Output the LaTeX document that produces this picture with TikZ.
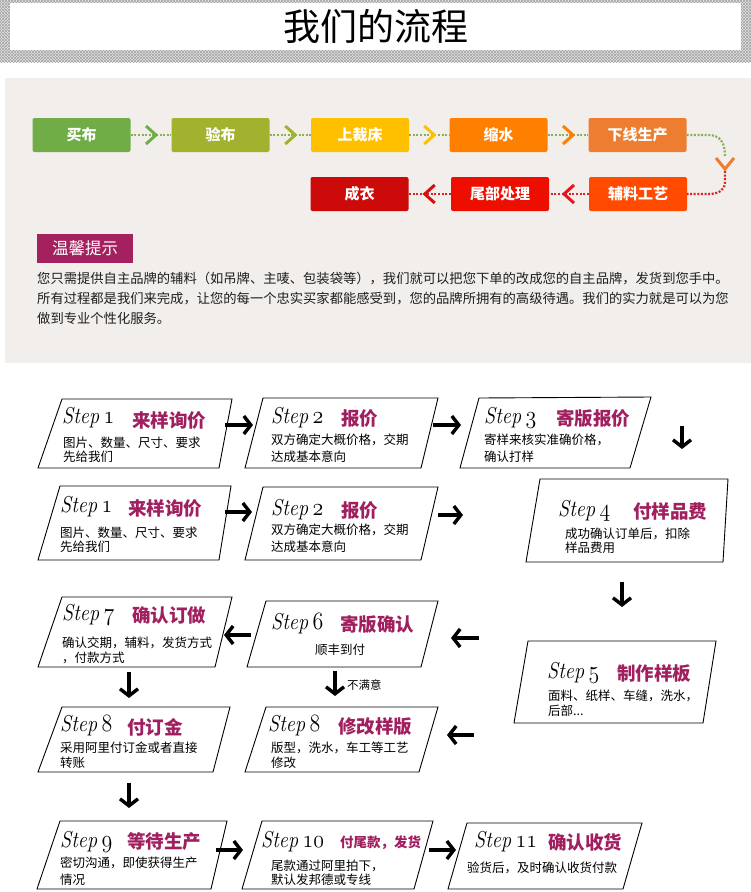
\documentclass[tikz,border=0pt]{standalone}
\usepackage{fontspec}
\newfontfamily\cjk{Noto Sans CJK SC}
\usetikzlibrary{arrows.meta,patterns,calc}
\definecolor{cmag}{HTML}{A0205F}
\definecolor{cTip}{HTML}{A3215F}
\definecolor{cBuy}{HTML}{70AD47}
\definecolor{cCheck}{HTML}{A2B22F}
\definecolor{cCut}{HTML}{FFC000}
\definecolor{cShrink}{HTML}{FF7F00}
\definecolor{cLine}{HTML}{ED7D31}
\definecolor{cAux}{HTML}{FF4A00}
\definecolor{cTail}{HTML}{EE0E00}
\definecolor{cDone}{HTML}{CC0A0A}
\definecolor{cDotG}{HTML}{86B24F}
\definecolor{cDotR}{HTML}{D92424}
\definecolor{cChevA}{HTML}{E8141E}
\definecolor{cChevB}{HTML}{D40F0F}
\definecolor{cPanel}{HTML}{F1EEEB}
\definecolor{cText}{HTML}{1E1E1E}
\newcommand\osn[1]{{\fontencoding{OML}\fontfamily{cmm}\fontseries{m}\fontshape{it}\selectfont #1}}
\newcommand\stp[1]{\scalebox{0.88}[1]{Step\kern0.22em\osn{#1}}}
\tikzset{
  flowbox/.style={rounded corners=2pt, minimum width=98pt, minimum height=34pt, inner sep=0pt,
    text=white, font=\cjk\bfseries\fontsize{15}{15}\selectfont},
  dotg/.style={draw=cDotG, line width=2.2pt, dash pattern=on 2pt off 1.6pt},
  dotr/.style={draw=cDotR, line width=2.2pt, dash pattern=on 2pt off 1.6pt},
  chev/.style={line width=3pt, line join=miter},
  sbox/.style={draw=black, line width=0.9pt, fill=white},
  steplbl/.style={inner sep=0pt, anchor=base west, font=\itshape\fontsize{23}{23}\selectfont},
  cnttl/.style={inner sep=0pt, anchor=west, text=cmag, font=\cjk\bfseries\fontsize{18.5}{20}\selectfont},
  bodytxt/.style={inner sep=0pt, anchor=west, text=black, font=\cjk\fontsize{12.5}{14}\selectfont},
  paratxt/.style={inner sep=0pt, anchor=west, text=cText, font=\cjk\fontsize{13.3}{14}\selectfont},
  bigarr/.style={line width=3.4pt, -{Straight Barb[length=7pt,width=18pt]}},
}
\newcommand\sbx[5]{\draw[sbox] #2 -- #3 -- #4 -- #5 -- cycle; \coordinate (#1) at ($#2!0.5!#4$);}
\newcommand\barrow[3]{\coordinate (#1s) at #2; \coordinate (#1e) at #3; \draw[bigarr] (#1s) -- (#1e);}
\newcommand\chevR[2]{\draw[chev, draw=#2] ($#1+(-5,-9)$) -- ++(10,9) -- ++(-10,9);}
\newcommand\chevL[2]{\draw[chev, draw=#2] ($#1+(5,-9)$) -- ++(-10,9) -- ++(10,9);}
\begin{document}
\begin{tikzpicture}[x=1pt,y=-1pt]
\useasboundingbox (0,0) rectangle (751,892);
\fill[white] (0,0) rectangle (751,892);
% header
\fill[gray!22] (0,0) rectangle (751,62);
\fill[pattern=north east lines, pattern color=gray!70] (0,0) rectangle (751,62);
\fill[pattern=north west lines, pattern color=gray!70] (0,0) rectangle (751,62);
\fill[white] (10,3) rectangle (741,50);
\node[inner sep=0pt, font=\cjk\fontsize{37}{37}\selectfont] (title) at (376,26) {我们的流程};
% panel
\fill[cPanel] (5,78) rectangle (751,363);
\node[flowbox, fill=cBuy] (f1) at (81.5,135) {买布};
\node[flowbox, fill=cCheck] (f2) at (220.5,135) {验布};
\node[flowbox, fill=cCut] (f3) at (360,135) {上裁床};
\node[flowbox, fill=cShrink] (f4) at (498.5,135) {缩水};
\node[flowbox, fill=cLine] (f5) at (637.5,135) {下线生产};
\node[flowbox, fill=cAux] (f6) at (638,194) {辅料工艺};
\node[flowbox, fill=cTail] (f7) at (500,194) {尾部处理};
\node[flowbox, fill=cDone] (f8) at (359.5,194) {成衣};
\draw[dotg] (f1.east) -- (f2.west);
\draw[dotg] (f2.east) -- (f3.west);
\draw[dotg] (f3.east) -- (f4.west);
\draw[dotg] (f4.east) -- (f5.west);
\coordinate (vtop) at (725,156);
\coordinate (vbot) at (725,171);
\draw[dotg] (f5.east) -- (708,135) .. controls (720,135) and (725,142) .. (vtop);
\draw[dotr] (vbot) -- (725,182) .. controls (725,190) and (719,194) .. (708,194) -- (f6.east);
\draw[dotr] (f6.west) -- (f7.east);
\draw[dotr] (f7.west) -- (f8.east);
\chevR{($(f1.east)!0.5!(f2.west)$)}{cBuy}
\chevR{($(f2.east)!0.5!(f3.west)$)}{cCheck}
\chevR{($(f3.east)!0.5!(f4.west)$)}{cCut}
\chevR{($(f4.east)!0.5!(f5.west)$)}{cShrink}
\draw[chev, draw=cLine] (716,158) -- (725,169) -- (734,158);
\chevL{($(f6.west)!0.5!(f7.east)$)}{cChevA}
\chevL{($(f7.west)!0.5!(f8.east)$)}{cChevB}
\node[fill=cTip, minimum width=96pt, minimum height=29pt, inner sep=0pt, text=white,
  font=\cjk\fontsize{16.5}{17}\selectfont] (tip) at (85,248) {温馨提示};
\node[paratxt] (p1) at (37,279) {您只需提供自主品牌的辅料（如吊牌、主唛、包装袋等），我们就可以把您下单的改成您的自主品牌，发货到您手中。};
\node[paratxt] (p2) at (37,299) {所有过程都是我们来完成，让您的每一个忠实买家都能感受到，您的品牌所拥有的高级待遇。我们的实力就是可以为您};
\node[paratxt] (p3) at (37,318) {做到专业个性化服务。};
% step boxes
\sbx{A1}{(62,399)}{(232,399)}{(219,468)}{(38,468)}
\sbx{A2}{(263,398)}{(438,398)}{(421,468)}{(245,468)}
\sbx{A3}{(479,398)}{(651,397)}{(630,468)}{(460,468)}
\sbx{B1}{(60,486)}{(231,486)}{(219,560)}{(38,560)}
\sbx{B2}{(263,487)}{(438,487)}{(421,560)}{(245,560)}
\sbx{B4}{(540,479)}{(728,479)}{(723,562)}{(526,562)}
\sbx{C5}{(528,641)}{(716,641)}{(703,723)}{(514,723)}
\sbx{C6}{(266,601)}{(438,601)}{(421,667)}{(247,667)}
\sbx{C7}{(62,597)}{(232,597)}{(215,667)}{(38,667)}
\sbx{D8}{(62,707)}{(230,707)}{(213,772)}{(38,772)}
\sbx{D9}{(266,707)}{(438,707)}{(419,772)}{(245,772)}
\sbx{E9}{(60,821)}{(227,821)}{(211,889)}{(37,889)}
\sbx{E10}{(262,821)}{(433,821)}{(414,889)}{(242,889)}
\sbx{E11}{(467,823)}{(642,823)}{(623,889)}{(448,889)}
% texts A1
\node[steplbl] (sA1) at (62,423) {\stp{1}};
\node[cnttl] (tA1) at (132,420) {来样询价};
\node[bodytxt] (bA1a) at (63,443) {图片、数量、尺寸、要求};
\node[bodytxt] (bA1b) at (63,457) {先给我们};
% A2
\node[steplbl] (sA2) at (271,423) {\stp{2}};
\node[cnttl] (tA2) at (341,419) {报价};
\node[bodytxt] (bA2a) at (271,440) {双方确定大概价格，交期};
\node[bodytxt] (bA2b) at (271,457) {达成基本意向};
% A3
\node[steplbl] (sA3) at (484,423) {\stp{3}};
\node[cnttl] (tA3) at (556,419) {寄版报价};
\node[bodytxt] (bA3a) at (484,440) {寄样来核实准确价格，};
\node[bodytxt] (bA3b) at (484,457) {确认打样};
% B1
\node[steplbl] (sB1) at (60,512) {\stp{1}};
\node[cnttl] (tB1) at (128,508) {来样询价};
\node[bodytxt] (bB1a) at (60,533) {图片、数量、尺寸、要求};
\node[bodytxt] (bB1b) at (60,547) {先给我们};
% B2
\node[steplbl] (sB2) at (271,515) {\stp{2}};
\node[cnttl] (tB2) at (341,511) {报价};
\node[bodytxt] (bB2a) at (271,530) {双方确定大概价格，交期};
\node[bodytxt] (bB2b) at (271,547) {达成基本意向};
% B4
\node[steplbl] (sB4) at (558,516) {\stp{4}};
\node[cnttl] (tB4) at (633,511) {付样品费};
\node[bodytxt] (bB4a) at (565,534) {成功确认订单后，扣除};
\node[bodytxt] (bB4b) at (565,548) {样品费用};
% C5
\node[steplbl] (sC5) at (547,678) {\stp{5}};
\node[cnttl] (tC5) at (617,673) {制作样板};
\node[bodytxt] (bC5a) at (548,696) {面料、纸样、车缝，洗水，};
\node[bodytxt] (bC5b) at (548,711) {后部...};
% C6
\node[steplbl] (sC6) at (271,629) {\stp{6}};
\node[cnttl] (tC6) at (340,625) {寄版确认};
\node[bodytxt, anchor=center] (bC6a) at (340,650) {顺丰到付};
% C7
\node[steplbl] (sC7) at (62,620) {\stp{7}};
\node[cnttl] (tC7) at (132,615) {确认订做};
\node[bodytxt] (bC7a) at (62,643) {确认交期，辅料，发货方式};
\node[bodytxt] (bC7b) at (62,658) {，付款方式};
% D8
\node[steplbl] (sD8) at (60,731) {\stp{8}};
\node[cnttl] (tD8) at (127,727) {付订金};
\node[bodytxt] (bD8a) at (60,748) {采用阿里付订金或者直接};
\node[bodytxt] (bD8b) at (60,763) {转账};
% D9
\node[steplbl] (sD9) at (268,731) {\stp{8}};
\node[cnttl] (tD9) at (338,727) {修改样版};
\node[bodytxt] (bD9a) at (271,748) {版型，洗水，车工等工艺};
\node[bodytxt] (bD9b) at (271,763) {修改};
% E9
\node[steplbl] (sE9) at (60,847) {\stp{9}};
\node[cnttl] (tE9) at (127,842) {等待生产};
\node[bodytxt] (bE9a) at (60,863) {密切沟通，即使获得生产};
\node[bodytxt] (bE9b) at (60,880) {情况};
% E10
\node[steplbl] (sE10) at (261,847) {\stp{10}};
\node[cnttl, font=\cjk\bfseries\fontsize{13.5}{14}\selectfont] (tE10) at (340,843) {付尾款，发货};
\node[bodytxt] (bE10a) at (271,866) {尾款通过阿里拍下，};
\node[bodytxt] (bE10b) at (271,880) {默认发邦德或专线};
% E11
\node[steplbl] (sE11) at (474,847) {\stp{11}};
\node[cnttl] (tE11) at (548,842) {确认收货};
\node[bodytxt] (bE11a) at (467,868) {验货后，及时确认收货付款};
% arrows
\barrow{a1}{(225,425)}{(253,425)}
\barrow{a2}{(433,425)}{(461,425)}
\barrow{a3}{(682,426)}{(682,449)}
\barrow{b1}{(225,512)}{(252,512)}
\barrow{b2}{(438,515)}{(463,515)}
\barrow{b4}{(622,582)}{(622,607)}
\barrow{c5}{(479,638)}{(451,638)}
\barrow{c6}{(251,635)}{(224,635)}
\barrow{c7}{(129,672)}{(129,698)}
\barrow{c8}{(335,671)}{(335,696)}
\node[inner sep=0pt, anchor=west, font=\cjk\fontsize{11.5}{12}\selectfont] (nm) at (347,685) {不满意};
\barrow{d9}{(474,735)}{(447,735)}
\barrow{d8}{(129,783)}{(129,808)}
\barrow{e9}{(216,850)}{(243,850)}
\barrow{e10}{(429,850)}{(456,850)}
\end{tikzpicture}
\end{document}
